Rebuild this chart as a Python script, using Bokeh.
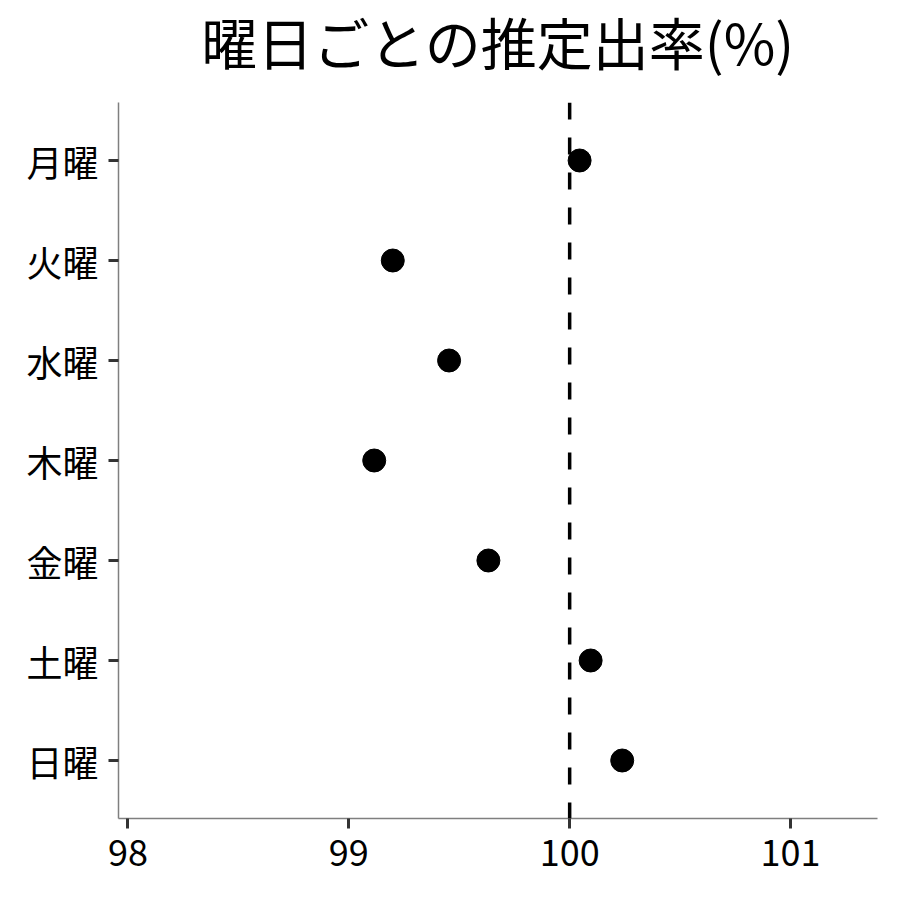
from bokeh.plotting import figure
from bokeh.models import FactorRange, Range1d, Span, FixedTicker, ColumnDataSource, Label
from bokeh.layouts import column
from bokeh.embed import file_html
from bokeh.resources import INLINE

days = ["月曜", "火曜", "水曜", "木曜", "金曜", "土曜", "日曜"]
rates = [100.045, 99.199, 99.454, 99.115, 99.632, 100.095, 100.238]
x_ticks = [98, 99, 100, 101]
ref_value = 100
title_text = "曜日ごとの推定出率(%)"

FONT = "Noto Sans CJK JP"
W = 892
TITLE_H = 80

# --- title strip (a small figure whose frame holds the title text) ---
tf = figure(width=W, height=TITLE_H, x_range=Range1d(0, 1), y_range=Range1d(TITLE_H, 0),
            x_axis_type=None, y_axis_type=None, output_backend="svg", toolbar_location=None,
            min_border_left=118, min_border_right=15, min_border_top=0, min_border_bottom=0)
tf.outline_line_color = None
tf.xgrid.grid_line_color = None
tf.ygrid.grid_line_color = None
tf.background_fill_color = "white"
tf.border_fill_color = "white"
tf.add_layout(Label(x=0.5, y=40, text=title_text, text_align="center",
                    text_baseline="middle", text_font=FONT, text_font_size="56px",
                    text_color="black"))

# --- main plot ---
src = ColumnDataSource(dict(day=days, rate=rates))

p = figure(
    width=W, height=W - TITLE_H,
    y_range=FactorRange(factors=list(reversed(days)), range_padding=0.08,
                        range_padding_units="absolute"),
    x_range=Range1d(97.957, 101.394),
    output_backend="svg", toolbar_location=None,
    min_border_left=118, min_border_right=15, min_border_top=102 - TITLE_H,
    min_border_bottom=74,
)

p.outline_line_color = None
p.xgrid.grid_line_color = None
p.ygrid.grid_line_color = None
p.background_fill_color = "white"
p.border_fill_color = "white"

for ax in (p.xaxis[0], p.yaxis[0]):
    ax.axis_line_color = "#7f7f7f"
    ax.axis_line_width = 1.5
    ax.major_tick_line_color = "#333333"
    ax.major_tick_line_width = 3
    ax.major_tick_out = 10
    ax.major_tick_in = 0
    ax.minor_tick_line_color = None
    ax.major_label_text_font = FONT
    ax.major_label_text_font_size = "36px"
    ax.major_label_text_color = "black"

p.xaxis[0].ticker = FixedTicker(ticks=x_ticks)
p.xaxis[0].major_label_standoff = 11
p.yaxis[0].major_label_standoff = 10

vline = Span(location=ref_value, dimension="height", line_color="black",
             line_width=3.5, line_dash="17 18")
p.add_layout(vline)

p.scatter(x="rate", y="day", source=src, size=23, color="black")

layout = column(tf, p, spacing=0)
open("out.html", "w").write(file_html(layout, INLINE))
